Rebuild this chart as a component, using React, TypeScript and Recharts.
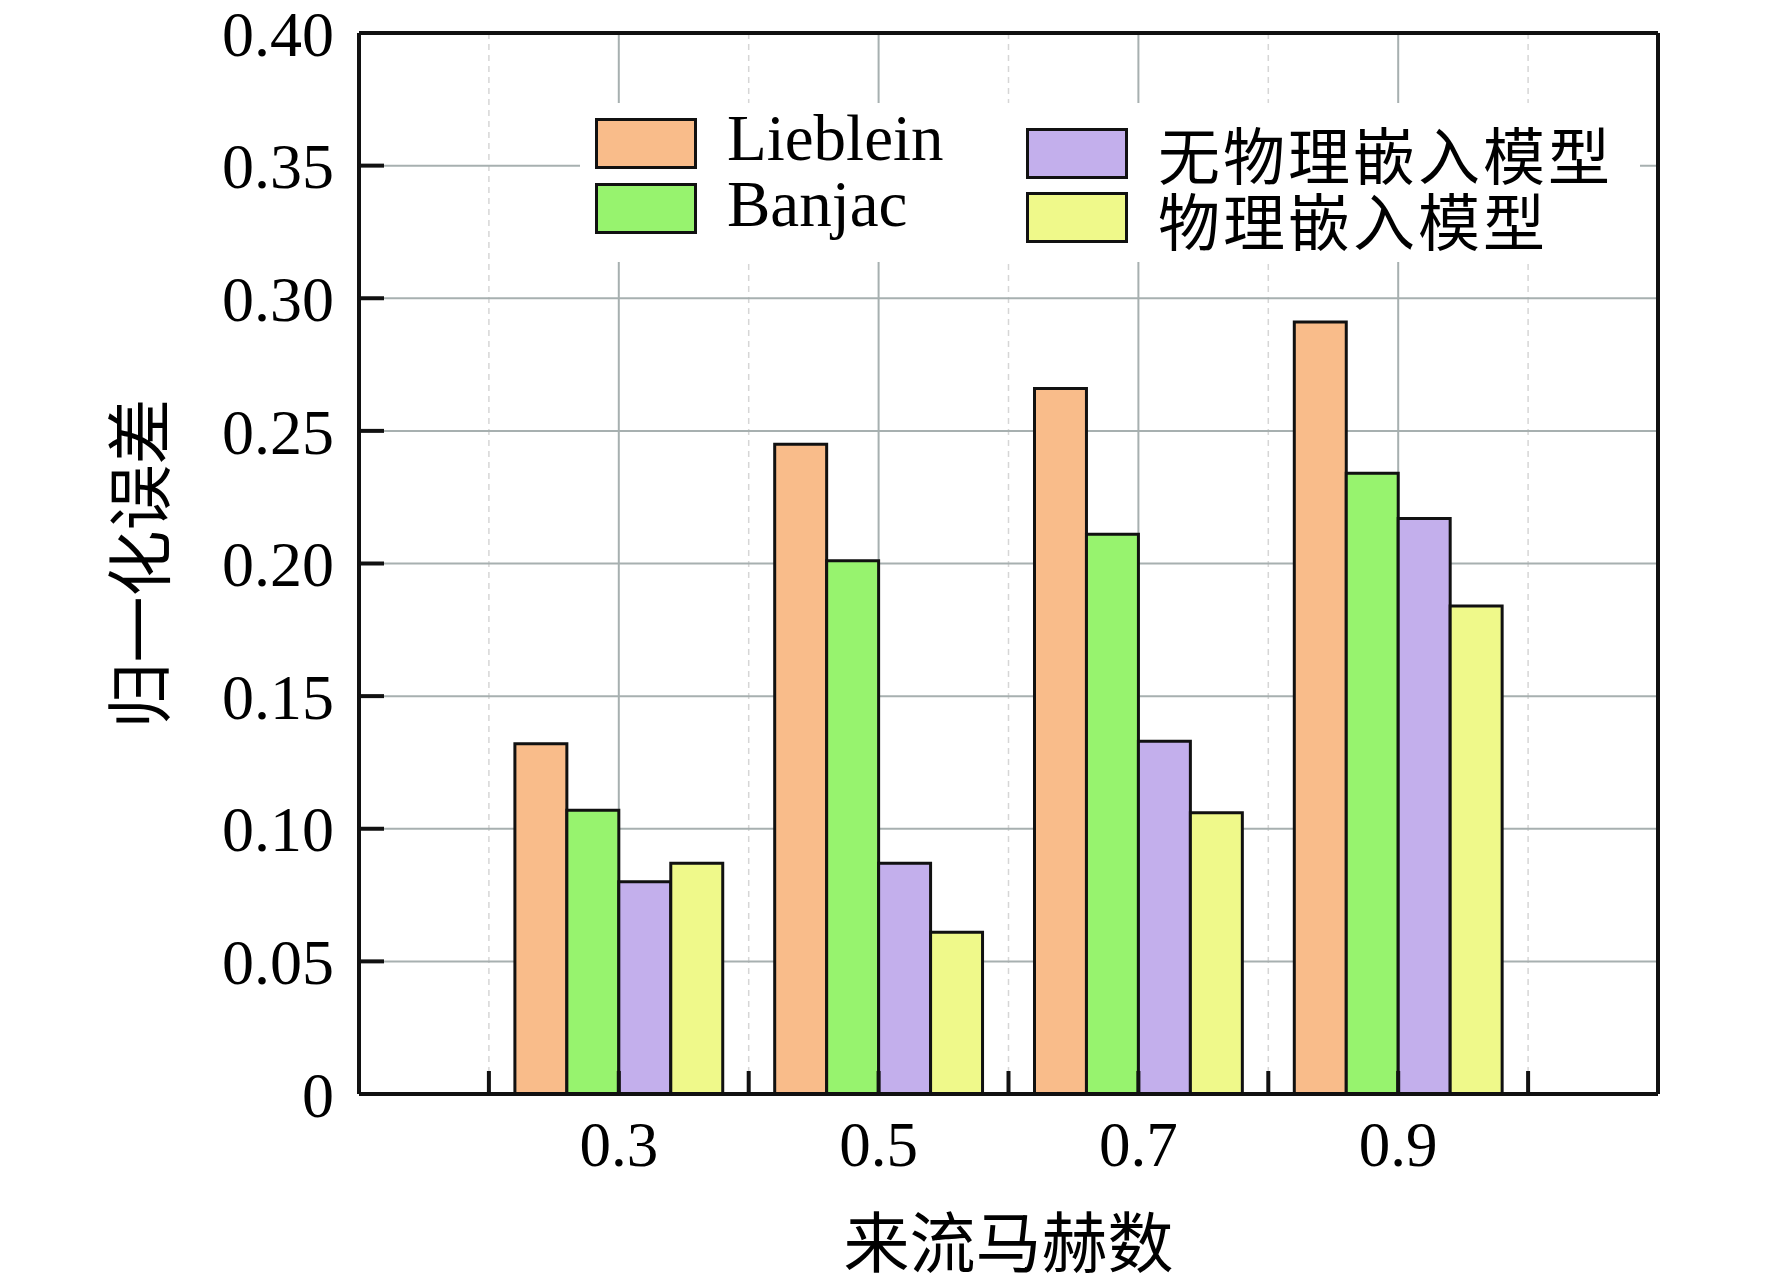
import React from "react";
import {
  BarChart,
  Bar,
  XAxis,
  YAxis,
  CartesianGrid,
  Legend,
  ReferenceLine,
} from "recharts";

// Mach numbers (bar groups) and normalised errors
const machLabels = ["0.3", "0.5", "0.7", "0.9"];
const machValues = [0.3, 0.5, 0.7, 0.9];
const lieblein = [0.132, 0.245, 0.266, 0.291];
const banjac = [0.107, 0.201, 0.211, 0.234];
const noPhysics = [0.08, 0.087, 0.133, 0.217];
const withPhysics = [0.087, 0.061, 0.106, 0.184];

const seriesNames = ["Lieblein", "Banjac", "无物理嵌入模型", "物理嵌入模型"];
const seriesKeys = ["lieblein", "banjac", "noPhysics", "withPhysics"];
const seriesColors = ["#F9BC8A", "#97F36E", "#C3AFEC", "#EFF98A"];

// axis ticks
const xTicks = [0.2, 0.3, 0.4, 0.5, 0.6, 0.7, 0.8, 0.9, 1.0];
const xMajorGrid = [0.3, 0.5, 0.7, 0.9];
const xMinorGrid = [0.2, 0.4, 0.6, 0.8, 1.0];
const yTicks = [0, 0.05, 0.1, 0.15, 0.2, 0.25, 0.3, 0.35, 0.4];
const yMinorGrid = [0.025, 0.075, 0.125, 0.175, 0.225, 0.275, 0.325, 0.375];

const data = machLabels.map((name, i) => ({
  name,
  mach: machValues[i],
  lieblein: lieblein[i],
  banjac: banjac[i],
  noPhysics: noPhysics[i],
  withPhysics: withPhysics[i],
}));

const W = 1772;
const H = 1288;
const PLOT_LEFT = 359;
const PLOT_TOP = 33;
const PLOT_RIGHT = 1658;
const PLOT_BOTTOM = 1094;
const plotW = PLOT_RIGHT - PLOT_LEFT;
// one x unit of 0.1 in pixels; groups sit at 0.3..0.9 in a 0.1..1.1 frame
const unit = plotW / 10;

const serif = "'Liberation Serif', 'Times New Roman', serif";
const cjk = "'Noto Sans CJK SC', 'Noto Sans', sans-serif";

function fmtY(v: number) {
  return v === 0 ? "0" : v.toFixed(2);
}

function fmtX(v: number) {
  const s = v.toFixed(1);
  return machLabels.includes(s) ? s : "";
}

function LegendBox({ payload }: { payload?: any[] }) {
  // keep the series order, not the alphabetical one
  const items = [...(payload ?? [])].sort(
    (a, b) => seriesNames.indexOf(a.value) - seriesNames.indexOf(b.value),
  );
  const left = items.slice(0, 2);
  const right = items.slice(2, 4);
  return (
    <div style={{ position: "relative", width: W, height: 0 }}>
      <div
        style={{
          position: "absolute",
          left: 580,
          top: 103,
          width: 1060,
          height: 159,
          background: "#fff",
        }}
      />
      {left.map((it, i) => (
        <React.Fragment key={it.value}>
          <div
            style={{
              position: "absolute",
              left: 595,
              top: 118 + i * 65,
              width: 102,
              height: 51,
              boxSizing: "border-box",
              background: it.color,
              border: "3px solid #111",
            }}
          />
          <div
            style={{
              position: "absolute",
              left: 727,
              top: 108 + i * 66,
              fontFamily: serif,
              fontSize: 65,
              lineHeight: "60px",
              color: "#000",
              whiteSpace: "nowrap",
            }}
          >
            {it.value}
          </div>
        </React.Fragment>
      ))}
      {right.map((it, i) => (
        <React.Fragment key={it.value}>
          <div
            style={{
              position: "absolute",
              left: 1026,
              top: 128 + i * 64,
              width: 102,
              height: 51,
              boxSizing: "border-box",
              background: it.color,
              border: "3px solid #111",
            }}
          />
          <div
            style={{
              position: "absolute",
              left: 1158,
              top: 124 + i * 66,
              fontFamily: cjk,
              fontSize: 62,
              lineHeight: "58px",
              letterSpacing: 3,
              color: "#000",
              whiteSpace: "nowrap",
            }}
          >
            {it.value}
          </div>
        </React.Fragment>
      ))}
    </div>
  );
}

export default function App() {
  return (
    <div style={{ position: "absolute", left: 0, top: 0, width: W, height: H, background: "#fff" }}>
      <BarChart
        width={W}
        height={H}
        data={data}
        margin={{ top: PLOT_TOP, right: W - PLOT_RIGHT, left: 0, bottom: 0 }}
        barGap={0}
      >
        {/* the visible axes first so they sit right on the plot edges */}
        <XAxis
          xAxisId="num"
          type="number"
          dataKey="mach"
          domain={[0.1, 1.1]}
          ticks={xTicks}
          tickFormatter={fmtX}
          height={H - PLOT_BOTTOM}
          axisLine={{ stroke: "#111", strokeWidth: 4 }}
          tickLine={{ stroke: "#111", strokeWidth: 4 }}
          tickSize={-23}
          tickMargin={50}
          tick={{ fill: "#000", fontSize: 63, fontFamily: serif }}
          interval={0}
          label={{
            value: "来流马赫数",
            position: "insideBottom",
            offset: 21,
            fill: "#000",
            fontSize: 66,
            fontFamily: cjk,
          }}
        />
        <YAxis
          yAxisId="val"
          type="number"
          domain={[0, 0.4]}
          ticks={yTicks}
          tickFormatter={fmtY}
          width={PLOT_LEFT}
          axisLine={{ stroke: "#111", strokeWidth: 4 }}
          tickLine={{ stroke: "#111", strokeWidth: 4 }}
          tickSize={-25}
          tickMargin={50}
          tick={{ fill: "#000", fontSize: 64, fontFamily: serif }}
          interval={0}
          label={{
            value: "归一化误差",
            angle: -90,
            position: "insideLeft",
            offset: 141,
            fill: "#000",
            fontSize: 66,
            fontFamily: cjk,
            style: { textAnchor: "middle" },
          }}
        />

        {/* hidden axes that only carry grid positions */}
        <XAxis xAxisId="gridMinor" type="number" dataKey="mach" domain={[0.1, 1.1]} ticks={xMinorGrid} height={0} hide />
        <XAxis xAxisId="gridMajor" type="number" dataKey="mach" domain={[0.1, 1.1]} ticks={xMajorGrid} height={0} hide />
        <YAxis yAxisId="yMinor" type="number" domain={[0, 0.4]} ticks={yMinorGrid} width={0} hide />
        {/* categorical axis the bars sit on, padded so bands match 0.3..0.9 */}
        <XAxis
          xAxisId="cat"
          dataKey="name"
          height={0}
          hide
          padding={{ left: unit, right: unit }}
        />

        <CartesianGrid
          xAxisId="gridMinor"
          yAxisId="yMinor"
          stroke="#D6D6D6"
          strokeWidth={1.5}
          strokeDasharray="6 5"
        />
        <CartesianGrid
          xAxisId="gridMajor"
          yAxisId="val"
          stroke="#A7B0B0"
          strokeWidth={2}
        />

        {seriesKeys.map((key, i) => (
          <Bar
            key={key}
            xAxisId="cat"
            yAxisId="val"
            dataKey={key}
            name={seriesNames[i]}
            fill={seriesColors[i]}
            stroke="#111"
            strokeWidth={3}
            barSize={unit * 0.4}
            isAnimationActive={false}
          />
        ))}

        {/* top and right frame */}
        <ReferenceLine xAxisId="num" yAxisId="val" y={0.4} stroke="#111" strokeWidth={4} />
        <ReferenceLine xAxisId="num" yAxisId="val" x={1.1} stroke="#111" strokeWidth={4} />

        <Legend
          layout="horizontal"
          align="center"
          verticalAlign="middle"
          wrapperStyle={{ left: 0, top: 0, width: W, height: 0 }}
          content={(props: any) => <LegendBox payload={props.payload} />}
        />
      </BarChart>
    </div>
  );
}
